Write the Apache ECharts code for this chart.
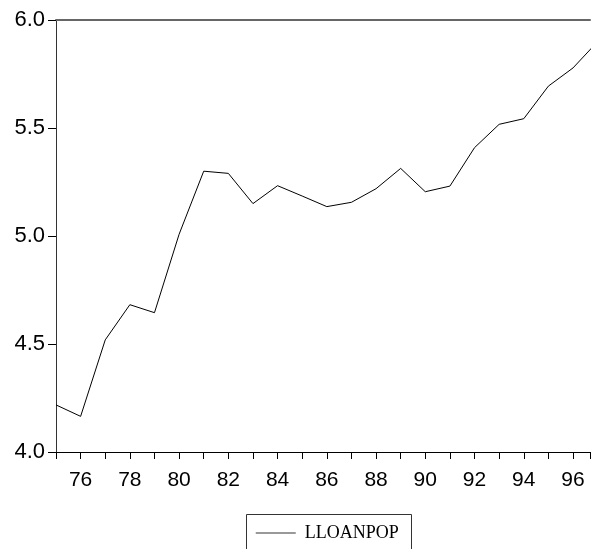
<!DOCTYPE html>
<html>
<head>
<meta charset="utf-8">
<script src="https://cdn.jsdelivr.net/npm/echarts@6/dist/echarts.min.js"></script>
<style>
html,body{margin:0;padding:0;background:#fff;}
#chart{width:593px;height:549px;}
</style>
</head>
<body>
<div id="chart"></div>
<script>
var years = [75,76,77,78,79,80,81,82,83,84,85,86,87,88,89,90,91,92,93,94,95,96,97];
var lloanpop = [4.218,4.165,4.519,4.682,4.645,5.008,5.300,5.290,5.150,5.233,5.185,5.136,5.156,5.219,5.313,5.205,5.231,5.409,5.517,5.543,5.694,5.778,5.900];
var yTicks = [4.0,4.5,5.0,5.5,6.0];
var seriesName = 'LLOANPOP';
var xMin = 75, xMax = 96.69;

var chart = echarts.init(document.getElementById('chart'), null, {renderer:'canvas'});
var font = 'Arial, "Liberation Sans", Helvetica, sans-serif';
var option = {
  animation: false,
  backgroundColor: '#fff',
  grid: {left: 56, right: 0, top: 20, bottom: 97},
  legend: {
    data: [seriesName],
    left: 255, top: 524,
    padding: [0, 0, 0, 0],
    itemWidth: 40, itemHeight: 14,
    lineStyle: {color: '#777', width: 1.5},
    itemStyle: {opacity: 0},
    textStyle: {fontFamily: '"Liberation Serif", "Times New Roman", serif', fontSize: 18, color: '#000', padding: [0,0,0,4]}
  },
  graphic: [{
    type: 'polyline', silent: true,
    shape: {points: [[246.5, 549], [246.5, 514.5], [411.5, 514.5], [411.5, 549]]},
    style: {stroke: '#333', lineWidth: 1, fill: null}
  }],
  xAxis: [{
    type: 'value', min: xMin, max: xMax, interval: 1,
    axisLine: {show: true, lineStyle: {color: '#000', width: 1}},
    axisTick: {show: true, length: 7, lineStyle: {color: '#000'}},
    axisLabel: {fontFamily: font, fontSize: 21, color: '#000', margin: 18,
      formatter: function(v){ return (Math.abs(v - Math.round(v)) < 1e-6 && Math.round(v) % 2 === 0) ? String(Math.round(v)) : ''; }},
    splitLine: {show: false}
  }, {
    type: 'value', min: xMin, max: xMax, position: 'top',
    axisLine: {show: true, onZero: false, lineStyle: {color: '#666', width: 2}},
    axisTick: {show: false}, axisLabel: {show: false}, splitLine: {show: false}
  }],
  yAxis: {
    type: 'value', min: 4, max: 6, interval: 0.5,
    axisLine: {show: true, lineStyle: {color: '#333', width: 1}},
    axisTick: {show: true, length: 8, lineStyle: {color: '#000'}},
    axisLabel: {fontFamily: font, fontSize: 22, color: '#000', margin: 11,
      formatter: function(v){ return v.toFixed(1); }},
    splitLine: {show: false}
  },
  series: [{
    name: seriesName, type: 'line', xAxisIndex: 0,
    data: years.map(function(y, i){ return [y, lloanpop[i]]; }),
    symbol: 'none', clip: true,
    lineStyle: {color: '#000', width: 1}
  }]
};
chart.setOption(option);
</script>
</body>
</html>
